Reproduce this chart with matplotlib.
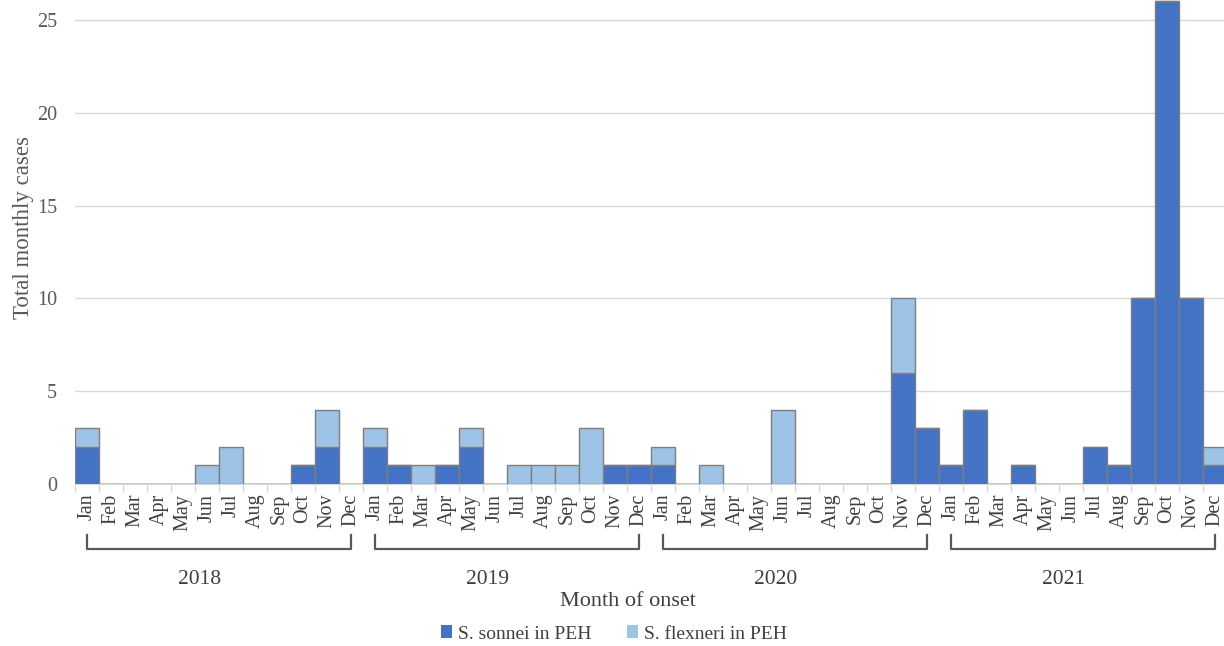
import numpy as np
import matplotlib
matplotlib.use('Agg')
import matplotlib.pyplot as plt
from matplotlib.transforms import blended_transform_factory
from matplotlib.patches import Patch

plt.rcParams['font.family'] = ['Liberation Serif', 'DejaVu Serif']

# Data: monthly cases Jan 2018 - Dec 2021
years = ['2018', '2019', '2020', '2021']
months = ['Jan', 'Feb', 'Mar', 'Apr', 'May', 'Jun',
          'Jul', 'Aug', 'Sep', 'Oct', 'Nov', 'Dec']
sonnei = [2, 0, 0, 0, 0, 0, 0, 0, 0, 1, 2, 0,
          2, 1, 0, 1, 2, 0, 0, 0, 0, 0, 1, 1,
          1, 0, 0, 0, 0, 0, 0, 0, 0, 0, 6, 3,
          1, 4, 0, 1, 0, 0, 2, 1, 10, 26, 10, 1]
flexneri = [1, 0, 0, 0, 0, 1, 2, 0, 0, 0, 2, 0,
            1, 0, 1, 0, 1, 0, 1, 1, 1, 3, 0, 0,
            1, 0, 1, 0, 0, 4, 0, 0, 0, 0, 4, 0,
            0, 0, 0, 0, 0, 0, 0, 0, 0, 0, 0, 1]

W, H = 1224, 646
fig = plt.figure(figsize=(W / 100, H / 100), dpi=100)
# axes: x from 75 to 1227 px, y from 484 (zero) to 0 px
ax = fig.add_axes([75 / W, (H - 484) / H, 1152 / W, 484 / H])

x = np.arange(len(sonnei))
dark = '#4472C4'
light = '#9DC3E6'
edge = '#7F7F7F'
ax.bar(x, sonnei, width=1.0, color=dark, edgecolor=edge, linewidth=1.0, zorder=3)
ax.bar(x, flexneri, width=1.0, bottom=sonnei, color=light, edgecolor=edge,
       linewidth=1.0, zorder=3)

ax.set_xlim(-0.5, len(sonnei) - 0.5)
ax.set_ylim(0, 484 / 18.56)
ax.set_yticks([0, 5, 10, 15, 20, 25])
ax.yaxis.grid(True, color='#D9D9D9', linewidth=1.0, zorder=0)
for s in ['top', 'right', 'left']:
    ax.spines[s].set_visible(False)
ax.spines['bottom'].set_color('#D9D9D9')
ax.tick_params(axis='y', length=0, pad=13, labelsize=14.5, labelcolor='#595959')

ax.set_xticks(x)
ax.set_xticklabels(months * len(years), rotation=90, fontsize=14.5, color='#404040')
ax.tick_params(axis='x', which='major', length=0, pad=7)
ax.set_xticks(np.arange(-0.5, len(sonnei)), minor=True)
ax.tick_params(axis='x', which='minor', length=6, color='#D9D9D9', width=1)

ax.set_ylabel('Total monthly cases', fontsize=16.5, color='#595959')
ax.yaxis.set_label_coords(-41 / 1152, 0.53)

# year brackets
tr = blended_transform_factory(ax.transData, fig.transFigure)
y_line = 1 - 549 / H
y_top = 1 - 535 / H
for i, yr in enumerate(years):
    x0 = i * 12
    x1 = i * 12 + 11
    ax.plot([x0, x0, x1, x1], [y_top, y_line, y_line, y_top], transform=tr,
            color='#595959', linewidth=1.6, clip_on=False)
    fig.text(i * 12 + 5.5 - 0.8, 1 - 580 / H, yr, transform=tr, ha='center',
             va='center', fontsize=15.5, color='#404040')

fig.text(628 / W, 1 - 602 / H, 'Month of onset', ha='center', va='center',
         fontsize=16, color='#404040')

handles = [Patch(facecolor=dark, edgecolor='none', label='S. sonnei in PEH'),
           Patch(facecolor=light, edgecolor='none', label='S. flexneri in PEH')]
fig.legend(handles=handles, loc='center', bbox_to_anchor=(614 / W, 1 - 634 / H),
           ncol=2, frameon=False, fontsize=14, handlelength=0.6, handleheight=0.6,
           handletextpad=0.3, columnspacing=1.8, labelcolor='#404040')

fig.savefig('out.png', dpi=100)
